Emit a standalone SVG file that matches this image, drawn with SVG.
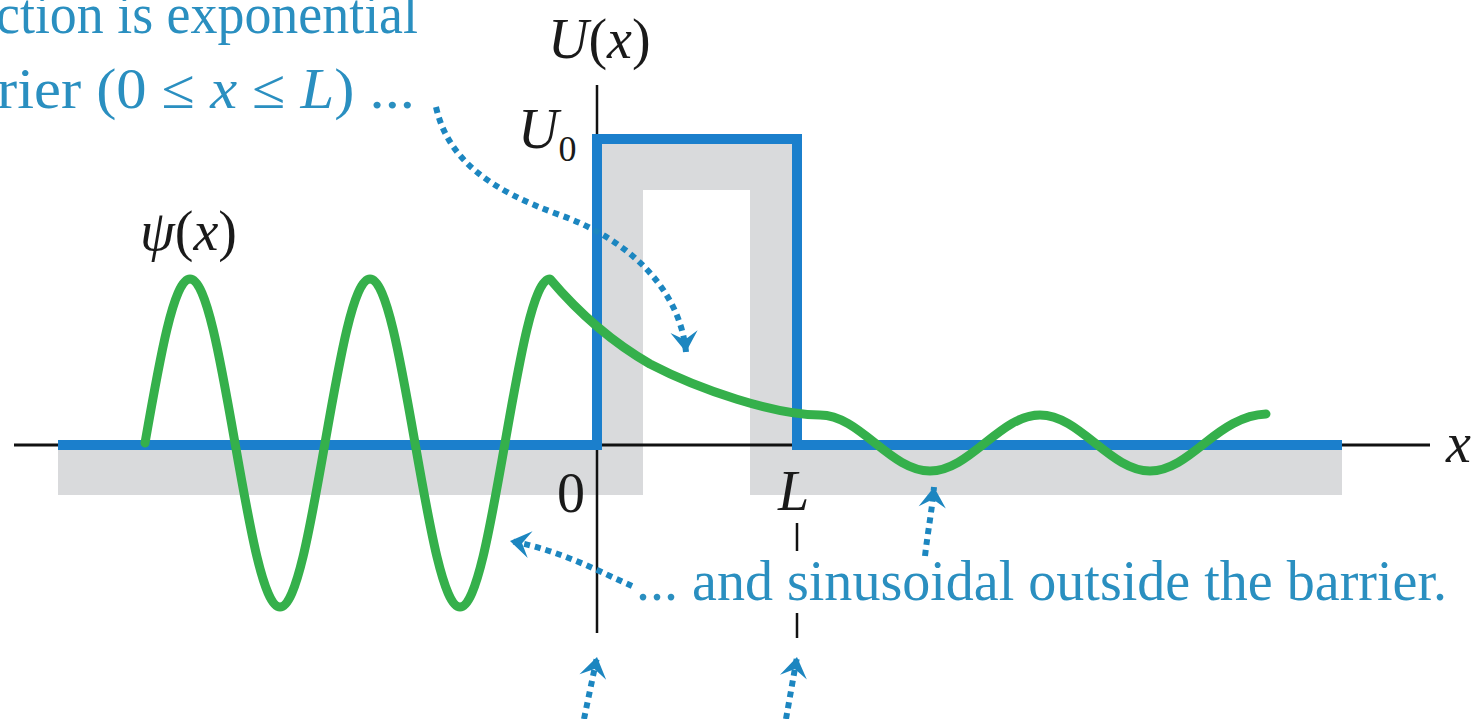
<svg xmlns="http://www.w3.org/2000/svg" width="1482" height="719" viewBox="0 0 1482 719">
<style>
.cap{font-family:"Liberation Serif","DejaVu Serif",serif;font-size:56px;fill:#2a8fc0}
.lab{font-family:"Liberation Serif","DejaVu Serif",serif;font-size:56px;fill:#1a1a1a}
.it{font-style:italic}
.dots{fill:none;stroke:#1c86c0;stroke-width:6;stroke-dasharray:6 5}
.axis{stroke:#111;fill:none}
</style>
<defs>
<marker id="ah" markerUnits="userSpaceOnUse" markerWidth="30" markerHeight="30" viewBox="-16 -11 18 22" refX="0" refY="0" orient="auto">
<path d="M0,0 L-15,-10 L-9,0 L-15,10 Z" fill="#1c86c0"/>
</marker>
</defs>
<rect width="1482" height="719" fill="#ffffff"/>
<g id="shading">
<path d="M58,450 L602,450 L602,144 L792,144 L792,450 L1342,450 L1342,495 L750,495 L750,190 L643,190 L643,495 L58,495 Z" fill="#d9dadc"/>
</g>
<g id="axes">
<line class="axis" x1="14" y1="445" x2="1430" y2="445" stroke-width="3"/>
<line class="axis" x1="597" y1="85" x2="597" y2="633" stroke-width="2.5"/>
<line class="axis" x1="797" y1="523" x2="797" y2="638" stroke-width="2.5" stroke-dasharray="28 62"/>
</g>
<g id="potential">
<path d="M58,445 L597,445 L597,139 L797,139 L797,445 L1342,445" fill="none" stroke="#1b7fcc" stroke-width="10" stroke-linejoin="miter"/>
</g>
<g id="wavefunction">
<path d="M145,443 C159.7,359 173.7,279 190,279 C206.3,279 220.3,359 235,443 C249.7,527 263.7,607 280,607 C296.3,607 310.3,527 325,443 C339.7,359 353.7,279 370,279 C386.3,279 400.3,359 415,443 C429.7,527 443.7,607 460,607 C476.3,607 490.3,527 505,443 C519.7,359 533.7,279 550,279 C572,305 605,338 650,364 C700,390 775,415 820,415 C839.9,415 857.1,428.7 875,443 C892.9,457.3 910.1,471 930,471 C949.9,471 967.1,457.3 985,443 C1002.9,428.7 1020.1,415 1040,415 C1059.9,415 1077.1,428.7 1095,443 C1112.9,457.3 1130.1,471 1150,471 C1169.9,471 1187.1,457.3 1205,443 C1222.9,428.7 1242,415 1266,414" fill="none" stroke="#35b04b" stroke-width="9" stroke-linecap="round" stroke-linejoin="round"/>
</g>
<g id="labels">
<text class="lab" x="548" y="58" font-size="55"><tspan class="it">U</tspan>(<tspan class="it">x</tspan>)</text>
<text class="lab" x="518" y="148"><tspan class="it">U</tspan><tspan font-size="36" dy="13">0</tspan></text>
<text class="lab" x="140" y="250" font-size="55"><tspan class="it">ψ</tspan>(<tspan class="it">x</tspan>)</text>
<text class="lab" x="557" y="512">0</text>
<text class="lab it" x="778" y="510">L</text>
<text class="lab it" x="1446" y="462">x</text>
</g>
<g id="caption-top">
<text class="cap" x="-4" y="33" textLength="422" lengthAdjust="spacingAndGlyphs">ction is exponential</text>
<text class="cap" x="-3" y="108" textLength="418" lengthAdjust="spacingAndGlyphs">rier (0 ≤ <tspan class="it">x</tspan> ≤ <tspan class="it">L</tspan>) ...</text>
</g>
<g id="caption-right">
<text class="cap" x="636" y="600" textLength="811" lengthAdjust="spacingAndGlyphs">... and sinusoidal outside the barrier.</text>
</g>
<g id="connectors">
<path class="dots" d="M436,107 C448,160 490,190 560,215 C630,240 680,290 686,352" marker-end="url(#ah)"/>
<path class="dots" d="M632,586 C600,572 560,550 510,541" marker-end="url(#ah)"/>
<path class="dots" d="M925,556 C928,530 932,510 934,487" marker-end="url(#ah)"/>
<path class="dots" d="M584,719 L597,657" marker-end="url(#ah)"/>
<path class="dots" d="M786,719 L797,657" marker-end="url(#ah)"/>
</g>
</svg>
